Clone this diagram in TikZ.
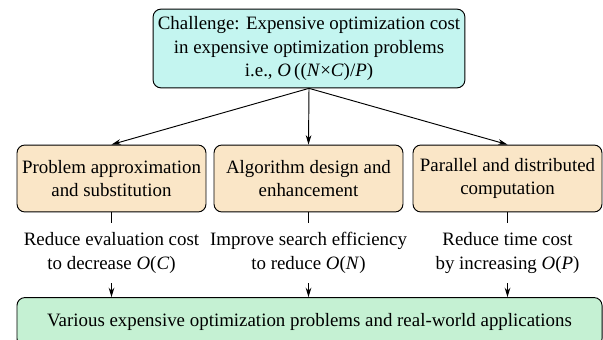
\documentclass[tikz,border=0pt]{standalone}
\usepackage{fontspec}
\setmainfont{Liberation Serif}
\usetikzlibrary{arrows.meta}
\definecolor{challengecyan}{HTML}{C4F5F0}
\definecolor{methodbeige}{HTML}{FAE6C7}
\definecolor{appgreen}{HTML}{C5F1D3}

\newcommand{\bigO}[1]{\textit{O}(\textit{#1})}

\begin{document}
\begin{tikzpicture}[x=0.635pt, y=-0.635pt, font=\fontsize{12}{14.8}\selectfont, line width=0.6pt,
  box/.style={draw, rounded corners=5pt, align=center, inner sep=2pt},
  method/.style={box, fill=methodbeige, minimum width=120pt, minimum height=42.5pt},
  effect/.style={align=center, inner xsep=0pt, inner ysep=6pt},
  arr/.style={-{Stealth[length=6pt, width=3.6pt]}}]
 	% Frame
 	\useasboundingbox (0,0) rectangle (603,340);
 	% Nodes
 	\node[box, fill=challengecyan, minimum width=198pt, minimum height=50pt] (challenge) at (309,48.5)
 	  {Challenge: Expensive optimization cost\\in expensive optimization problems\\i.e., \textit{O}\,((\textit{N}×\textit{C})/\textit{P})};
 	\node[method] (approx) at (111.5,178.5) {Problem approximation\\and substitution};
 	\node[method] (algo) at (308.5,178.5) {Algorithm design and\\enhancement};
 	\node[method] (parallel) at (507.5,178.5) {Parallel and distributed\\computation};
 	\node[effect] (cost) at (111.5,253) {Reduce evaluation cost\\to decrease \bigO{C}};
 	\node[effect] (search) at (308.5,253) {Improve search efficiency\\to reduce \bigO{N}};
 	\node[effect] (time) at (507.5,253) {Reduce time cost\\by increasing \bigO{P}};
 	\node[box, fill=appgreen, minimum width=371.5pt, minimum height=31pt] (apps) at (309.5,322)
 	  {Various expensive optimization problems and real-world applications};
 	% Edges
 	\draw[arr] (challenge.south) -- (approx.north);
 	\draw[arr] (challenge.south) -- (algo.north);
 	\draw[arr] (challenge.south) -- (parallel.north);
 	\draw (approx) -- (cost);
 	\draw (algo) -- (search);
 	\draw (parallel) -- (time);
 	\draw[arr] (cost) -- (cost |- apps.north);
 	\draw[arr] (search) -- (search |- apps.north);
 	\draw[arr] (time) -- (time |- apps.north);
\end{tikzpicture}
\end{document}
